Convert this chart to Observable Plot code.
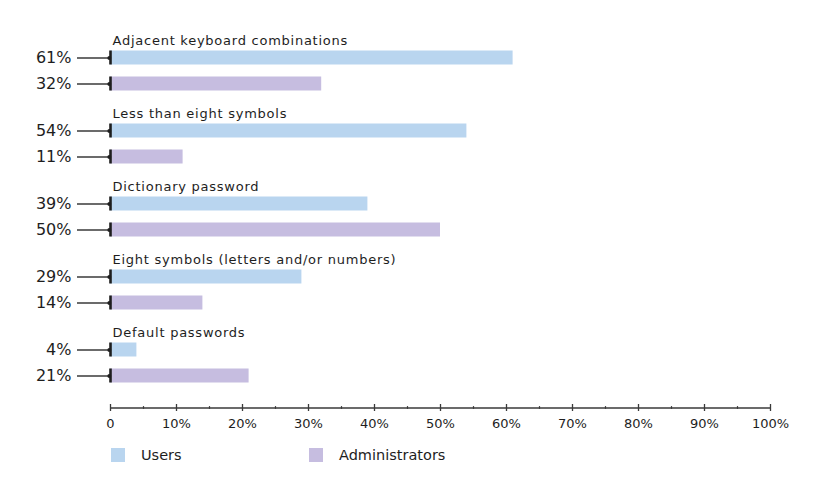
<!DOCTYPE html>
<html>
<head>
<meta charset="utf-8">
<script src="https://cdn.jsdelivr.net/npm/d3@7"></script>
<script src="https://cdn.jsdelivr.net/npm/@observablehq/plot@0.6"></script>
<style>
  html, body { margin: 0; padding: 0; background: #fff; }
  body { font-family: "DejaVu Sans", sans-serif; color: #1e1e1e; width: 818px; height: 486px; overflow: hidden; }
  svg { display: block; }
  #legend { position: relative; height: 50px; font-size: 14.5px; }
  #legend .sw { position: absolute; top: 12px; width: 14px; height: 14px; }
  #legend .lb { position: absolute; top: 10px; line-height: 18px; }
</style>
</head>
<body>
<div id="chart"></div>
<script>
// ---- data ----
const categories = [
  "Adjacent keyboard combinations",
  "Less than eight symbols",
  "Dictionary password",
  "Eight symbols (letters and/or numbers)",
  "Default passwords"
];
const series = ["Users", "Administrators"];
const usersValues = [61, 54, 39, 29, 4];
const adminValues = [32, 11, 50, 14, 21];
const seriesColors = ["#b9d5ef", "#c6bde0"];
const majorTicks = [0, 10, 20, 30, 40, 50, 60, 70, 80, 90, 100];
const minorTicks = [5, 15, 25, 35, 45, 55, 65, 75, 85, 95];
const tickLabels = ["0", "10%", "20%", "30%", "40%", "50%", "60%", "70%", "80%", "90%", "100%"];

const rows = categories.flatMap((c, i) => [
  {cat: c, s: series[0], v: usersValues[i]},
  {cat: c, s: series[1], v: adminValues[i]}
]);

const ink = "#1e1e1e";
const lineInk = "#3a3a3a";

const main = Plot.plot({
  width: 818,
  height: 400,
  marginLeft: 110,
  marginRight: 48,
  marginTop: 33.5,
  marginBottom: 1.5,
  style: {fontFamily: "DejaVu Sans", color: ink, background: "#fff", overflow: "visible"},
  facet: {data: rows, y: "cat"},
  fy: {domain: categories, padding: 0, axis: null, label: null},
  x: {domain: [0, 100], axis: null},
  y: {domain: series, paddingInner: 0.472, paddingOuter: 0.613, axis: null},
  color: {domain: series, range: seriesColors},
  marks: [
    Plot.barX(rows, {x: "v", y: "s", fill: "s"}),
    Plot.ruleY(rows, {y: "s", x1: -5, x2: 0, stroke: lineInk, strokeWidth: 1.3}),
    Plot.tickX(rows, {x: 0, y: "s", stroke: ink, strokeWidth: 2.6}),
    Plot.dot(rows, {x: 0, y: "s", r: 1.9, fill: ink, dx: -1.2}),
    Plot.text(rows, {x: 0, y: "s", text: d => d.v + "%", textAnchor: "end", dx: -39, fontSize: 16, fill: ink}),
    Plot.text(rows, {filter: d => d.s === series[0], text: "cat", frameAnchor: "top-left",
      textAnchor: "start", lineAnchor: "bottom", dx: 2, dy: 10.8, fontSize: 13, fill: ink})
  ]
});

d3.select(main).selectAll("text")
  .filter(function() { return categories.includes(this.textContent); })
  .attr("letter-spacing", "0.75px");

const axis = Plot.plot({
  width: 818,
  height: 36,
  marginLeft: 110,
  marginRight: 48,
  marginTop: 4,
  marginBottom: 25,
  style: {fontFamily: "DejaVu Sans", color: ink, background: "#fff", overflow: "visible"},
  x: {domain: [0, 100], axis: null},
  y: {domain: [0, 1], axis: null},
  marks: [
    Plot.ruleY([0.5], {stroke: lineInk, strokeWidth: 1.5}),
    Plot.tickX(majorTicks, {x: d => d, stroke: lineInk, strokeWidth: 1.3}),
    Plot.ruleX(minorTicks, {x: d => d, y1: 0.3, y2: 0.7, stroke: lineInk, strokeWidth: 1.2}),
    Plot.text(majorTicks, {x: d => d, text: (d, i) => tickLabels[i], frameAnchor: "bottom",
      lineAnchor: "top", dy: 7, fontSize: 13, fill: ink})
  ]
});

const chart = document.getElementById("chart");
chart.appendChild(main);
chart.appendChild(axis);

const legend = document.createElement("div");
legend.id = "legend";
const swatchLeft = [111, 309];
series.forEach((s, i) => {
  const sw = document.createElement("span");
  sw.className = "sw";
  sw.style.left = swatchLeft[i] + "px";
  sw.style.background = seriesColors[i];
  const lb = document.createElement("span");
  lb.className = "lb";
  lb.style.left = (swatchLeft[i] + 30) + "px";
  lb.textContent = s;
  legend.appendChild(sw);
  legend.appendChild(lb);
});
chart.appendChild(legend);
</script>
</body>
</html>
